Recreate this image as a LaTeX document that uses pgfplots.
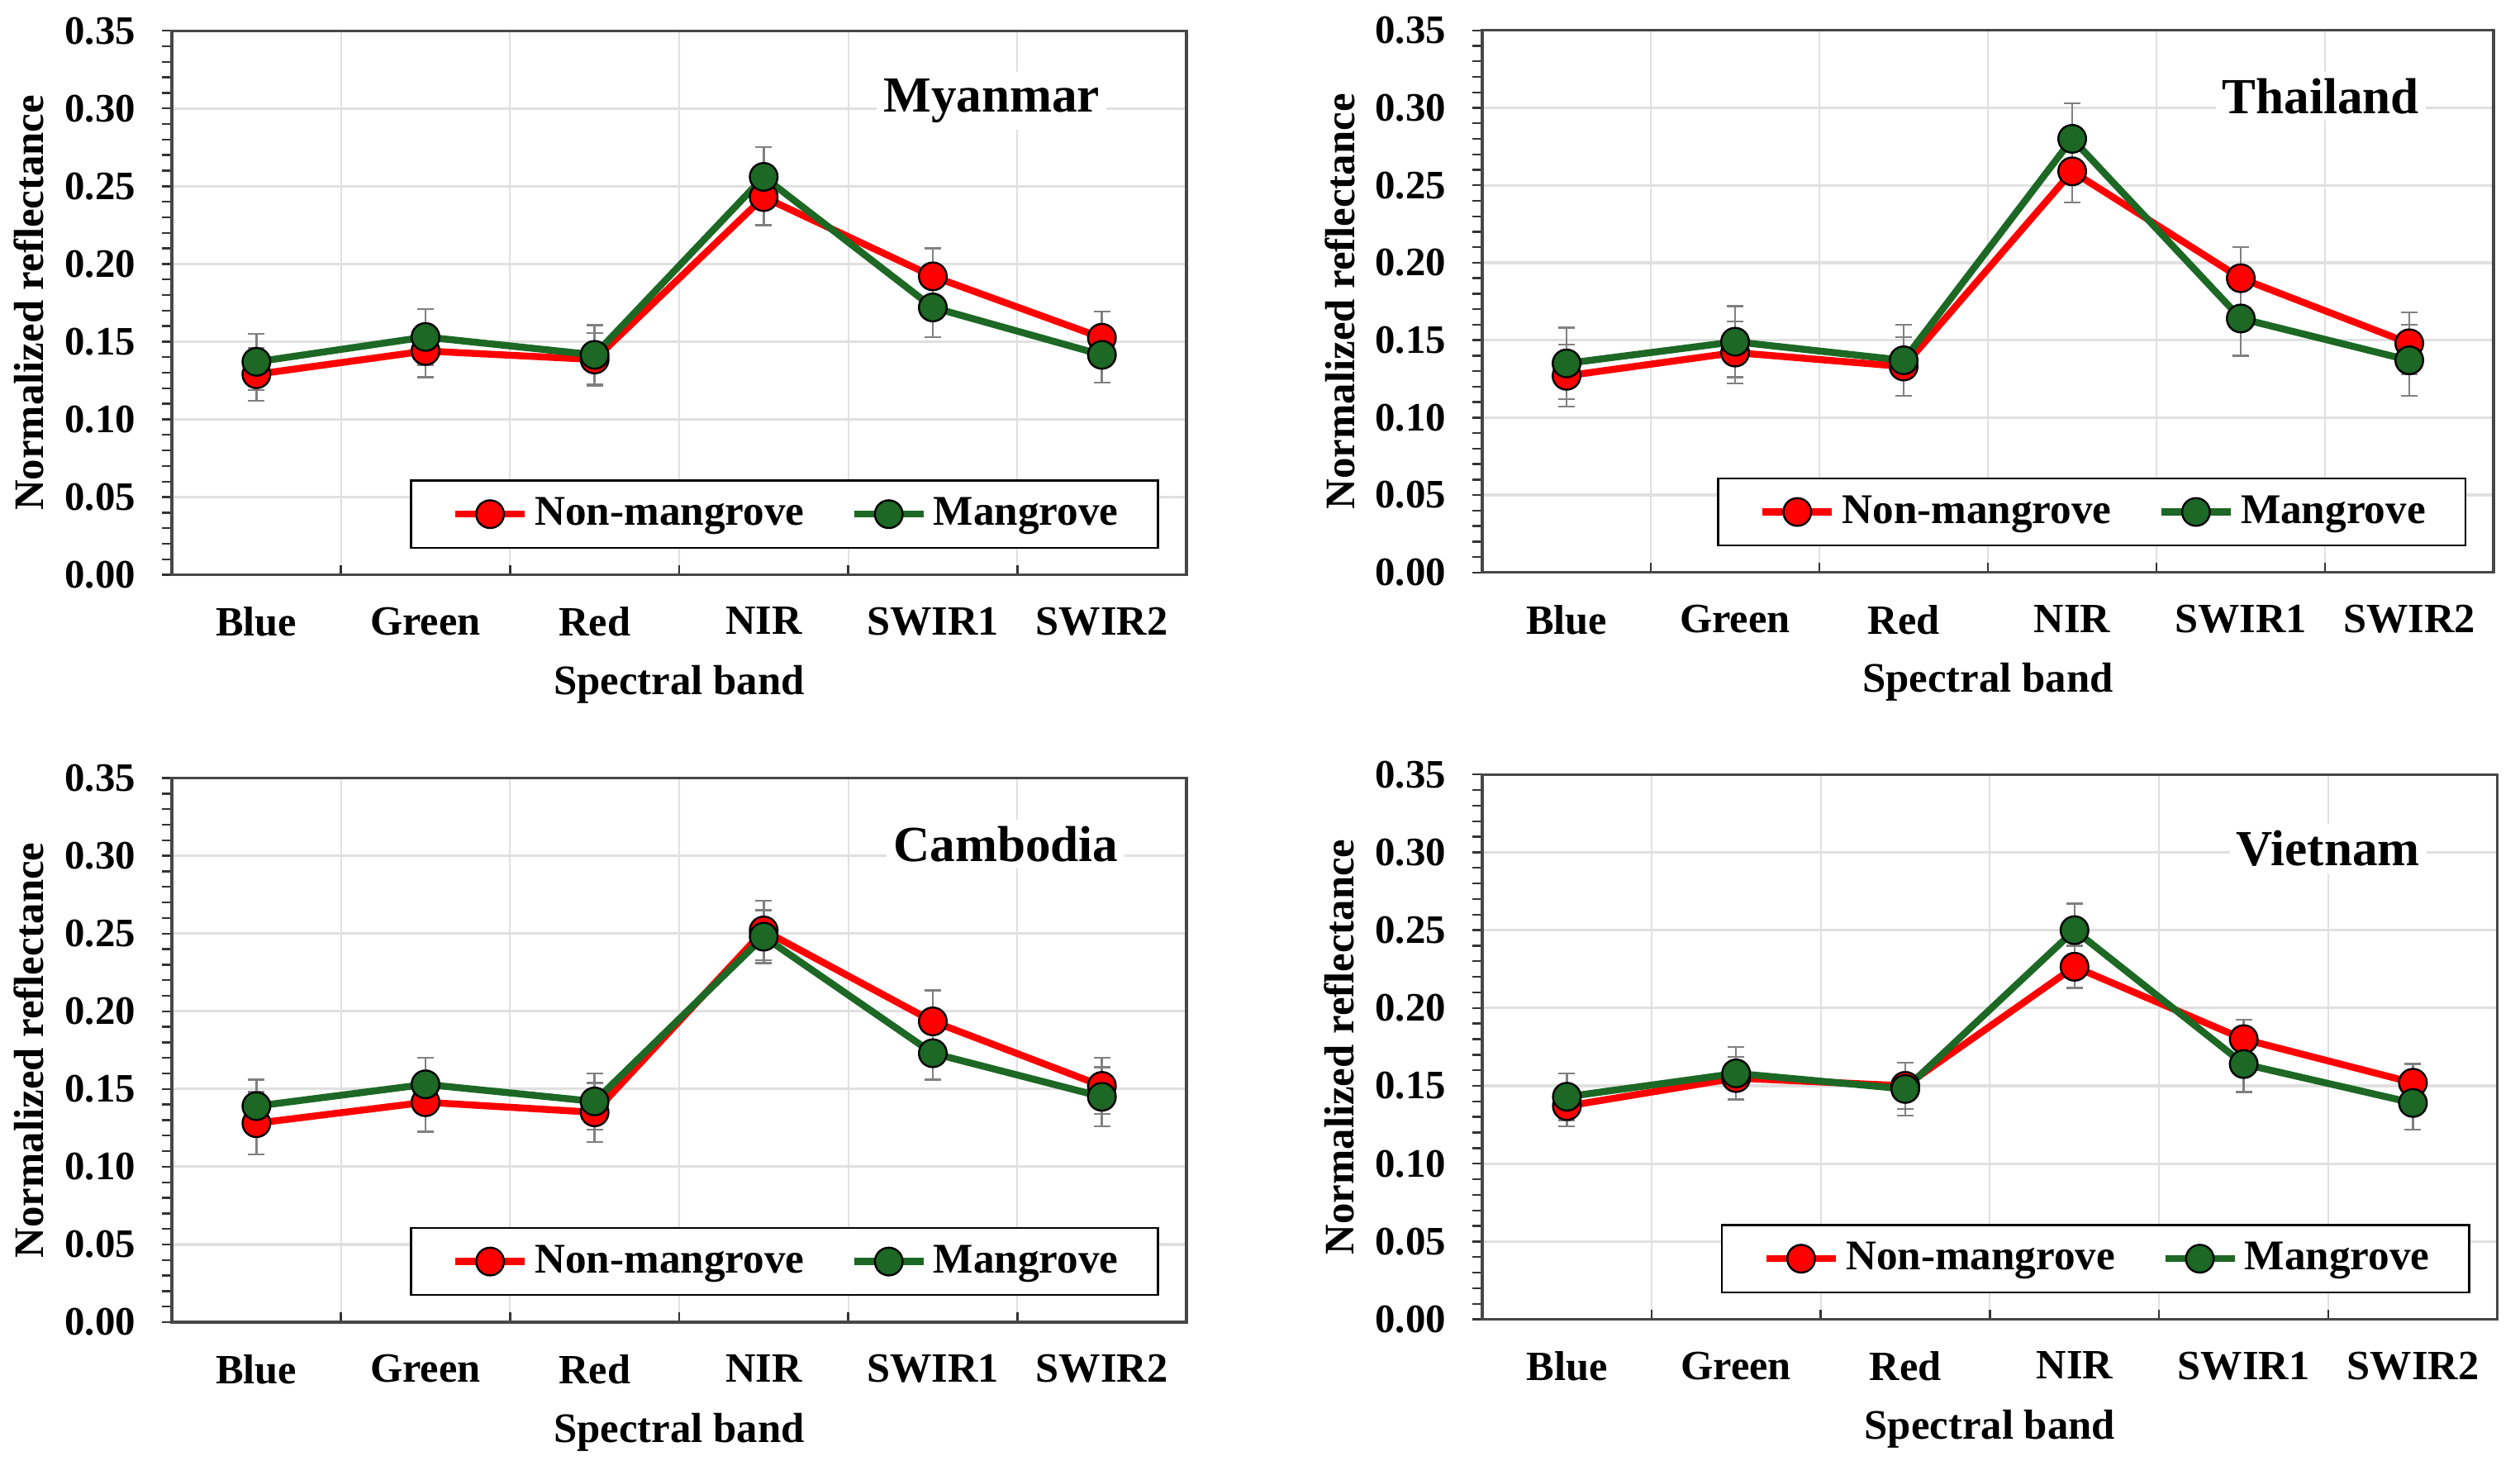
\documentclass[border=0pt]{standalone}
\usepackage{fontspec}
\setmainfont{Liberation Serif}
\usepackage{pgfplots}
\pgfplotsset{compat=1.18}
\usepackage{pgfplotstable}

\definecolor{nmred}{RGB}{255,0,0}
\definecolor{mgreen}{RGB}{28,104,36}
\definecolor{gridgray}{RGB}{224,224,224}

% x nm nme m me
\pgfplotstableread{
x   nm     nme    m      me
0.5 0.129  0.017  0.137  0.018
1.5 0.144  0.017  0.153  0.018
2.5 0.1385 0.017  0.1415 0.019
3.5 0.243  0.018  0.256  0.019
4.5 0.192  0.018  0.172  0.019
5.5 0.1525 0.017  0.1415 0.018
}\myan
\pgfplotstableread{
x   nm     nme    m      me
0.5 0.127  0.020  0.135  0.023
1.5 0.142  0.020  0.149  0.023
2.5 0.133  0.019  0.137  0.023
3.5 0.259  0.020  0.280  0.023
4.5 0.190  0.020  0.164  0.024
5.5 0.148  0.020  0.137  0.023
}\thai
\pgfplotstableread{
x   nm     nme    m      me
0.5 0.128  0.020  0.139  0.017
1.5 0.1415 0.019  0.153  0.017
2.5 0.135  0.019  0.142  0.018
3.5 0.252  0.019  0.248  0.017
4.5 0.1935 0.020  0.173  0.017
5.5 0.152  0.018  0.145  0.019
}\camb
\pgfplotstableread{
x   nm     nme    m      me
0.5 0.137  0.013  0.143  0.015
1.5 0.155  0.0135 0.158  0.017
2.5 0.150  0.015  0.148  0.017
3.5 0.2265 0.0135 0.250  0.017
4.5 0.180  0.0125 0.164  0.018
5.5 0.152  0.012  0.139  0.017
}\viet

\pgfplotsset{
  panel/.style={
    scale only axis,
    xmin=0, xmax=6, ymin=0, ymax=0.35,
    xtick={0.5,1.5,2.5,3.5,4.5,5.5},
    xticklabels={Blue,Green,Red,NIR,SWIR1,SWIR2},
    minor xtick={0,1,2,3,4,5,6},
    major x tick style={draw=none},
    minor x tick style={yshift=2.9pt},
    xminorgrids=true, xmajorgrids=false,
    ytick={0,0.05,0.1,0.15,0.2,0.25,0.3,0.35},
    minor y tick num=4,
    ymajorgrids=true,
    tick align=outside, tick pos=left,
    major tick length=2.9pt, minor tick length=2.9pt,
    tick style={black!80, line width=0.6pt},
    major grid style={gridgray, line width=0.8pt},
    minor grid style={gridgray, line width=0.5pt},
    axis line style={black!72, line width=0.8pt},
    yticklabel style={/pgf/number format/fixed, /pgf/number format/fixed zerofill,
      /pgf/number format/precision=2, /pgf/number format/assume math mode=true,
      font=\bfseries\fontsize{12.2}{14}\selectfont, xshift=-4.6pt},
    xticklabel style={font=\bfseries\fontsize{12.6}{15}\selectfont, yshift=-3.4pt},
    xlabel={Spectral band}, ylabel={Normalized reflectance},
    label style={font=\bfseries\fontsize{12.7}{15}\selectfont},
    xlabel style={at={(axis description cs:0.5,-0.2017)}, anchor=center},
    ylabel style={at={(axis description cs:-0.1407,0.5)}, anchor=center},
    legend columns=2,
    legend style={at={(0.973,0.048)}, anchor=south east, draw=black, line width=0.6pt,
      font=\bfseries\fontsize{12.8}{15}\selectfont,
      inner xsep=10pt, inner ysep=3.2pt,
      /tikz/every even column/.append style={column sep=9.6pt}},
    legend image code/.code={\path (-2.4pt,0pt); \draw[mark repeat=2,mark phase=2,##1] plot coordinates {(0pt,0pt) (10.5pt,0pt) (21pt,0pt)};},
  },
  nmstyle/.style={nmred, line width=2.1pt, mark=*, mark size=4.2pt,
    mark options={fill=nmred, draw=black, line width=0.6pt},
    error bars/.cd, y dir=both, y explicit,
    error bar style={gray, line width=0.6pt},
    error mark options={gray, rotate=90, mark size=2.5pt, line width=0.6pt}},
  mstyle/.style={mgreen, line width=2.1pt, mark=*, mark size=4.2pt,
    mark options={fill=mgreen, draw=black, line width=0.6pt},
    error bars/.cd, y dir=both, y explicit,
    error bar style={gray, line width=0.6pt},
    error mark options={gray, rotate=90, mark size=2.5pt, line width=0.6pt}},
}

\newcommand{\paneltitle}[3]{\node[fill=white, inner sep=2pt, font=\bfseries\fontsize{15.3}{18}\selectfont] at (rel axis cs:#1,#2) {#3};}

\begin{document}
\begin{tikzpicture}
\useasboundingbox (0,0) rectangle (762.5pt,-441.75pt);

\begin{axis}[panel, width=307pt, height=164.6pt, at={(52pt,-9.3pt)}, anchor=north west]
\addplot[nmstyle] table[x=x, y=nm, y error=nme] {\myan};
\addplot[mstyle] table[x=x, y=m, y error=me] {\myan};
\legend{Non-mangrove, Mangrove}
\paneltitle{0.808}{0.871}{Myanmar}
\end{axis}

\begin{axis}[panel, width=306pt, height=164pt, at={(448.5pt,-9.2pt)}, anchor=north west]
\addplot[nmstyle] table[x=x, y=nm, y error=nme] {\thai};
\addplot[mstyle] table[x=x, y=m, y error=me] {\thai};
\legend{Non-mangrove, Mangrove}
\paneltitle{0.829}{0.878}{Thailand}
\end{axis}

\begin{axis}[panel, width=307pt, height=164.6pt, at={(52pt,-235.4pt)}, anchor=north west]
\addplot[nmstyle] table[x=x, y=nm, y error=nme] {\camb};
\addplot[mstyle] table[x=x, y=m, y error=me] {\camb};
\legend{Non-mangrove, Mangrove}
\paneltitle{0.822}{0.879}{Cambodia}
\end{axis}

\begin{axis}[panel, width=307.2pt, height=164.85pt, at={(448.5pt,-234.3pt)}, anchor=north west]
\addplot[nmstyle] table[x=x, y=nm, y error=nme] {\viet};
\addplot[mstyle] table[x=x, y=m, y error=me] {\viet};
\legend{Non-mangrove, Mangrove}
\paneltitle{0.833}{0.864}{Vietnam}
\end{axis}
\end{tikzpicture}
\end{document}
